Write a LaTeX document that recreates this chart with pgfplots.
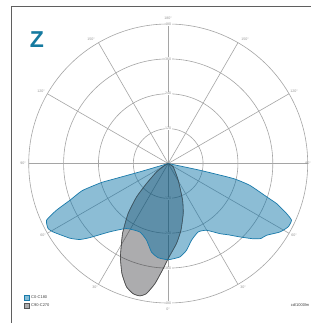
\documentclass[border=0pt]{standalone}
\usepackage{fontspec}
\setmainfont{Liberation Sans}
\usepackage{pgfplots}
\pgfplotsset{compat=1.18}
\usepackage{pgfplotstable}
\definecolor{bfill}{RGB}{134,189,214}
\definecolor{bdeep}{RGB}{0,109,164}
\definecolor{bline}{RGB}{25,122,170}
\definecolor{gfill}{RGB}{172,172,174}
\definecolor{gline}{RGB}{85,85,85}
\definecolor{grid}{RGB}{165,165,165}
\definecolor{zcol}{RGB}{21,122,160}
\definecolor{frame}{RGB}{95,95,95}
\definecolor{lab}{RGB}{150,150,150}
\tikzset{lbl/.style={font=\fontsize{3.6}{4}\selectfont, text=lab},
  leg/.style={font=\fontsize{4}{4.5}\selectfont, text=black!75, anchor=west, inner sep=0pt}}

% luminaire angle gamma (0 = down, + = right), intensity cd/1000lm
\pgfplotstableread{
g r
0 0
78 111
77 230
75 291
71.3 358
69.7 398
67.1 442
65.3 467
62.2 467
58.5 451
53.9 419
51 410
48.5 391
44.3 353
40 320
36.4 300
29.9 265
23.7 257
16.9 276
11.9 305
7.1 324
0 331
-6.1 326
-10.7 310
-15.8 274
-22.5 255
-32.7 266
-40.5 309
-46.6 371
-49.3 401
-52.8 425
-59.3 461
-61.6 470
-65.0 462
-67.3 417
-69.5 361
-72.5 310
-74.1 240
-74.1 209
-73.6 102
0 0
}\cA

\pgfplotstableread{
g r
0 0
56 21
31 67
21.4 136
16.7 180
10.8 234
5.9 277
0 327
-2.7 362
-6.3 416
-9.5 454
-12.1 466
-15.1 464
-18.7 448
-22.8 411
-27.1 361
-33.1 288
-38.7 221
-43.5 158
-47.3 102
-54.5 49
-63 13
0 0
}\cB

\begin{document}
\begin{tikzpicture}
\begin{axis}[name=a,
  width=311pt, height=323pt, scale only axis,
  xmin=-578.8, xmax=491.4, ymin=-548.8, ymax=562.6,
  hide axis, clip=false,
]
\fill[white] (rel axis cs:0,0) rectangle (rel axis cs:1,1);
% grid
\draw[grid, line width=0.6pt] (axis cs:0,0) circle[radius=120];
\draw[grid, line width=0.6pt] (axis cs:0,0) circle[radius=240];
\draw[grid, line width=0.6pt] (axis cs:0,0) circle[radius=360];
\draw[grid, line width=0.6pt] (axis cs:0,0) circle[radius=480];
\draw[grid, line width=0.6pt] (axis cs:-480,0) -- (axis cs:480,0);
\draw[grid, line width=0.6pt] (axis cs:0,-480) -- (axis cs:0,480);
\draw[grid, line width=0.6pt] (axis cs:-415.7,-240) -- (axis cs:415.7,240);
\draw[grid, line width=0.6pt] (axis cs:-415.7,240) -- (axis cs:415.7,-240);
\draw[grid, line width=0.6pt] (axis cs:-240,-415.7) -- (axis cs:240,415.7);
\draw[grid, line width=0.6pt] (axis cs:-240,415.7) -- (axis cs:240,-415.7);

% radial labels
\node[lbl, fill=white, inner sep=0.3pt] at (axis cs:0,120) {120};
\node[lbl, fill=white, inner sep=0.3pt] at (axis cs:0,240) {240};
\node[lbl, fill=white, inner sep=0.3pt] at (axis cs:0,360) {360};
\node[lbl, fill=white, inner sep=0.3pt] at (axis cs:0,480) {480};
\node[lbl, fill=white, inner sep=0.3pt] at (axis cs:0,-120) {120};
\node[lbl, fill=white, inner sep=0.3pt] at (axis cs:0,-240) {240};
\node[lbl, fill=white, inner sep=0.3pt] at (axis cs:0,-360) {360};
\node[lbl, fill=white, inner sep=0.3pt] at (axis cs:0,-480) {480};

\addplot[fill=gfill, draw=gline, line width=0.6pt, smooth, tension=0.3, blend mode=multiply]
  table[x expr={\thisrow{r}*sin(\thisrow{g})}, y expr={-\thisrow{r}*cos(\thisrow{g})}] {\cB};
\addplot[fill=bdeep, fill opacity=0.45, draw=bline, line width=0.7pt, smooth, tension=0.3]
  table[x expr={\thisrow{r}*sin(\thisrow{g})}, y expr={-\thisrow{r}*cos(\thisrow{g})}] {\cA};
\addplot[draw=gline, line width=0.5pt, smooth, tension=0.3, draw opacity=0.7]
  table[x expr={\thisrow{r}*sin(\thisrow{g})}, y expr={-\thisrow{r}*cos(\thisrow{g})}] {\cB};

% angle labels
\node[lbl] at (rel axis cs:0.5402,0.9443) {180°};
\node[lbl] at (rel axis cs:0.2926,0.8793) {150°};
\node[lbl] at (rel axis cs:0.7878,0.8793) {150°};
\node[lbl] at (rel axis cs:0.1318,0.7183) {120°};
\node[lbl] at (rel axis cs:0.9453,0.7183) {120°};
\node[lbl] at (rel axis cs:0.0740,0.4954) {90°};
\node[lbl, anchor=east, inner sep=0pt] at (rel axis cs:1,0.4954) {90°};
\node[lbl] at (rel axis cs:0.1383,0.2724) {60°};
\node[lbl] at (rel axis cs:0.9453,0.2724) {60°};
\node[lbl] at (rel axis cs:0.3055,0.1115) {30°};
\node[lbl] at (rel axis cs:0.7814,0.1115) {30°};
\node[lbl] at (rel axis cs:0.5402,0.0433) {0°};

% legend
\draw[bline, fill=bfill, line width=0.5pt] (rel axis cs:0.0772,0.0867) rectangle (rel axis cs:0.0932,0.0712);
\draw[gline, fill=gfill, line width=0.5pt] (rel axis cs:0.0772,0.0619) rectangle (rel axis cs:0.0932,0.0464);
\node[leg] at (rel axis cs:0.0997,0.0790) {C0-C180};
\node[leg] at (rel axis cs:0.0997,0.0542) {C90-C270};
\node[leg, anchor=east] at (rel axis cs:0.995,0.0557) {cd/1000lm};

% title letter
\node[font=\fontsize{23}{23}\bfseries, text=zcol] at (rel axis cs:0.119,0.876) {Z};

% frame
\draw[frame, line width=1.6pt] (rel axis cs:0.037,0.9799) -- (rel axis cs:1,0.9799);
\draw[frame, line width=1.6pt] (rel axis cs:0.037,0.9799) -- (rel axis cs:0.037,0);
\end{axis}
\pgfresetboundingbox
\path (a.south west) rectangle (a.north east);
\end{tikzpicture}
\end{document}
